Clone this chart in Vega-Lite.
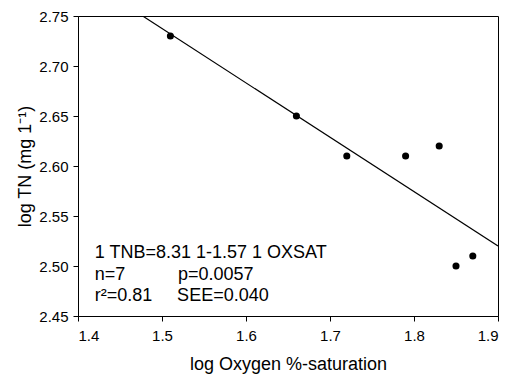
{
  "$schema": "https://vega.github.io/schema/vega-lite/v6.json",
  "width": 420,
  "height": 300,
  "autosize": {"type": "none"},
  "padding": {"left": 78, "top": 16, "right": 14, "bottom": 60},
  "background": "white",
  "config": {
    "view": {"stroke": "black", "strokeWidth": 1},
    "font": "Liberation Sans",
    "axis": {
      "grid": false,
      "domainColor": "black",
      "tickColor": "black",
      "labelColor": "black",
      "titleColor": "black",
      "labelFont": "Liberation Sans",
      "titleFont": "Liberation Sans",
      "labelFontSize": 15,
      "titleFontSize": 18,
      "titleFontWeight": "normal",
      "tickSize": 5
    }
  },
  "datasets": {
    "points": [
      {"x": 1.51, "y": 2.73},
      {"x": 1.66, "y": 2.65},
      {"x": 1.72, "y": 2.61},
      {"x": 1.79, "y": 2.61},
      {"x": 1.83, "y": 2.62},
      {"x": 1.85, "y": 2.50},
      {"x": 1.87, "y": 2.51}
    ],
    "fit": [
      {"x": 1.477, "y": 2.75},
      {"x": 1.9, "y": 2.52}
    ],
    "notes": [
      {"x": 1.42, "y": 2.513, "t": "1 TNB=8.31 1-1.57 1 OXSAT"},
      {"x": 1.42, "y": 2.491, "t": "n=7"},
      {"x": 1.519, "y": 2.491, "t": "p=0.0057"},
      {"x": 1.42, "y": 2.47, "t": "r²=0.81"},
      {"x": 1.518, "y": 2.47, "t": "SEE=0.040"}
    ]
  },
  "layer": [
    {
      "data": {"name": "fit"},
      "mark": {"type": "line", "color": "black", "strokeWidth": 1.2, "clip": true},
      "encoding": {
        "x": {"field": "x", "type": "quantitative", "scale": {"domain": [1.4, 1.9], "nice": false, "zero": false},
              "axis": {"values": [1.4, 1.5, 1.6, 1.7, 1.8, 1.9], "format": ".1f", "title": "log Oxygen %-saturation", "titlePadding": 12, "labelPadding": 7}},
        "y": {"field": "y", "type": "quantitative", "scale": {"domain": [2.45, 2.75], "nice": false, "zero": false},
              "axis": {"values": [2.45, 2.5, 2.55, 2.6, 2.65, 2.7, 2.75], "format": ".2f", "title": "log TN (mg 1⁻¹)", "titlePadding": 4, "labelPadding": 5}}
      }
    },
    {
      "data": {"name": "points"},
      "mark": {"type": "point", "filled": true, "color": "black", "size": 50, "opacity": 1},
      "encoding": {
        "x": {"field": "x", "type": "quantitative"},
        "y": {"field": "y", "type": "quantitative"}
      }
    },
    {
      "data": {"name": "notes"},
      "mark": {"type": "text", "align": "left", "baseline": "middle", "fontSize": 18, "color": "black", "font": "Liberation Sans"},
      "encoding": {
        "x": {"field": "x", "type": "quantitative"},
        "y": {"field": "y", "type": "quantitative"},
        "text": {"field": "t"}
      }
    }
  ]
}
